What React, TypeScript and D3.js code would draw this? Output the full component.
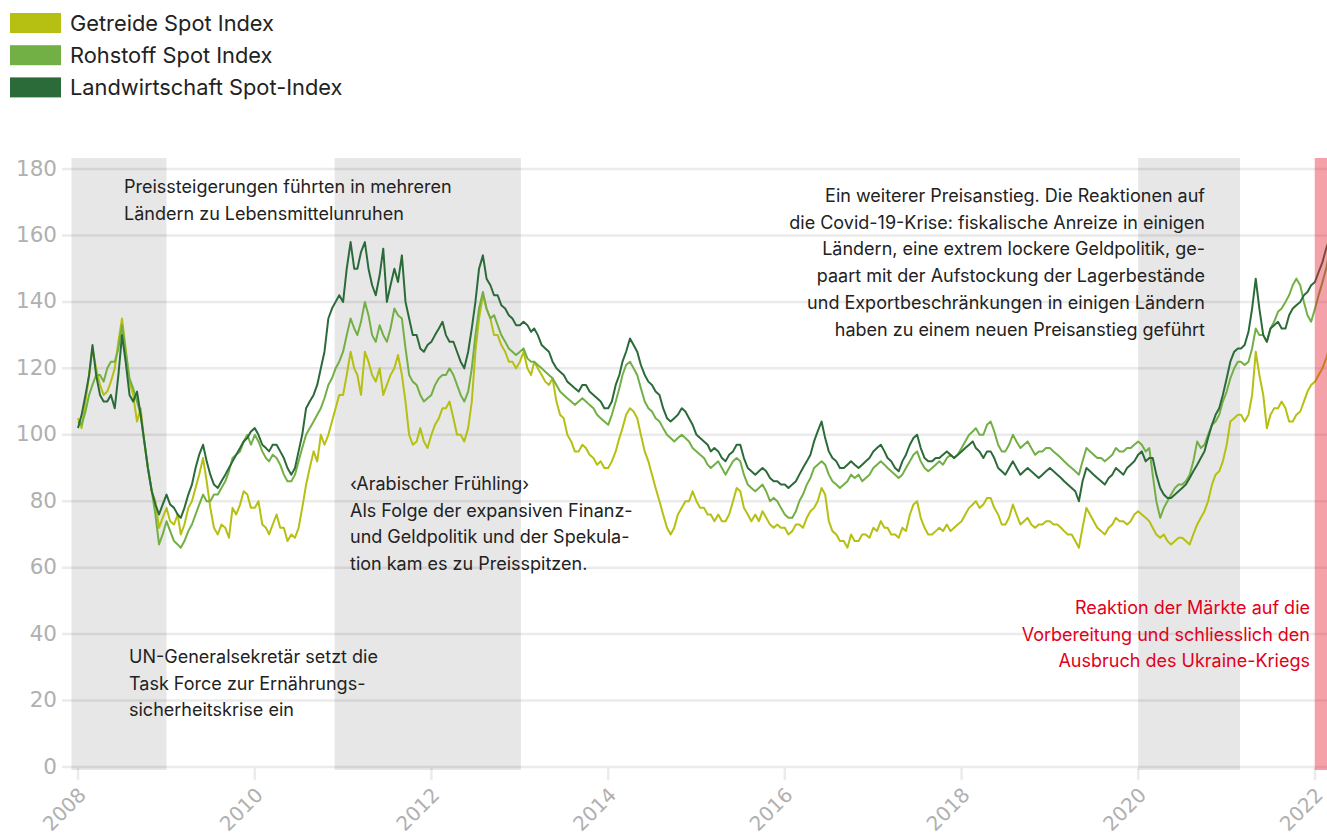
import React, { useEffect, useRef } from "react";
import * as d3 from "d3";

// two readings per month (1st and 16th), first point = 1 Jan 2008
const startYear = 2008;

const getreide = [
  105, 102, 110, 118, 126, 120, 115, 112, 113, 116, 120, 128, 135, 126, 116, 112, 104, 108, 98, 90, 83, 80, 72, 75,
  78, 74, 73, 76, 70, 73, 78, 80, 84, 88, 93, 86, 78, 72, 70, 73, 72, 69, 78, 76, 79, 83, 82, 78,
  78, 80, 73, 72, 70, 73, 76, 72, 72, 68, 70, 69, 72, 78, 85, 90, 95, 92, 100, 97, 100, 104, 108, 112,
  112, 118, 125, 120, 118, 112, 125, 122, 118, 116, 120, 112, 115, 118, 120, 124, 118, 110, 100, 97, 98, 102, 98, 96,
  100, 103, 105, 108, 108, 110, 105, 100, 100, 98, 102, 110, 125, 135, 142, 138, 135, 130, 130, 127, 125, 122, 122, 120,
  122, 125, 120, 118, 122, 120, 118, 116, 115, 117, 110, 106, 105, 100, 98, 95, 95, 97, 96, 94, 93, 91, 92, 90,
  90, 92, 95, 99, 102, 106, 108, 107, 105, 100, 95, 92, 88, 84, 80, 76, 72, 70, 72, 76, 78, 80, 80, 83,
  80, 78, 78, 76, 76, 74, 76, 74, 74, 76, 80, 84, 83, 78, 76, 74, 76, 74, 77, 75, 73, 72, 73, 72,
  72, 70, 71, 73, 73, 72, 75, 77, 78, 80, 84, 82, 74, 71, 70, 68, 68, 66, 70, 68, 68, 70, 70, 69,
  72, 71, 74, 72, 72, 70, 70, 69, 72, 71, 76, 79, 80, 75, 72, 70, 70, 71, 72, 71, 73, 71, 72, 73,
  74, 76, 78, 79, 80, 78, 79, 81, 81, 78, 76, 73, 73, 75, 79, 76, 73, 74, 75, 73, 72, 73, 73, 74,
  74, 73, 73, 72, 71, 70, 70, 68, 66, 72, 78, 76, 74, 72, 71, 70, 72, 73, 75, 74, 74, 73, 74, 76,
  77, 76, 75, 74, 72, 70, 69, 70, 68, 67, 68, 69, 69, 68, 67, 70, 73, 75, 77, 80, 85, 88, 89, 92,
  97, 104, 105, 106, 106, 104, 106, 112, 125, 118, 112, 102, 106, 108, 108, 110, 108, 104, 104, 106, 107, 110, 113, 115,
  116, 118, 120, 123, 126,
];

const rohstoff = [
  104, 103, 107, 112, 115, 118, 118, 116, 120, 122, 122, 126, 133, 125, 117, 114, 110, 106, 98, 90, 83, 76, 67, 70,
  74, 71, 68, 67, 66, 68, 71, 73, 76, 79, 82, 80, 80, 82, 82, 84, 86, 89, 93, 94, 95, 98, 100, 97,
  100, 98, 95, 93, 92, 94, 93, 91, 88, 86, 86, 88, 92, 96, 100, 102, 104, 106, 108, 111, 115, 117, 120, 122,
  125, 130, 135, 132, 130, 134, 140, 136, 130, 128, 133, 130, 128, 132, 138, 136, 135, 126, 118, 116, 115, 112, 110, 111,
  112, 115, 117, 118, 118, 120, 118, 115, 112, 110, 113, 120, 130, 138, 143, 138, 135, 136, 133, 130, 128, 126, 125, 124,
  125, 126, 123, 122, 122, 121, 120, 119, 118, 117, 115, 113, 112, 111, 110, 109, 110, 111, 110, 109, 108, 106, 105, 104,
  103, 106, 110, 114, 118, 121, 122, 120, 118, 114, 110, 108, 107, 105, 104, 102, 100, 99, 98, 99, 100, 99, 98, 96,
  95, 94, 93, 91, 90, 91, 92, 90, 88, 90, 92, 93, 92, 88, 85, 84, 83, 84, 85, 83, 80, 81, 80, 78,
  76, 75, 75, 77, 80, 82, 85, 87, 90, 91, 92, 91, 88, 86, 85, 84, 85, 86, 88, 87, 88, 86, 87, 88,
  90, 91, 92, 91, 90, 89, 88, 87, 88, 90, 92, 94, 95, 92, 90, 89, 90, 91, 92, 91, 93, 94, 93, 94,
  96, 98, 100, 101, 102, 100, 100, 103, 104, 101, 97, 95, 95, 97, 100, 98, 96, 97, 98, 96, 94, 95, 95, 96,
  96, 95, 94, 93, 92, 91, 90, 89, 88, 92, 96, 95, 94, 93, 93, 92, 93, 94, 96, 95, 95, 96, 96, 97,
  98, 97, 95, 96, 88, 80, 75, 78, 80, 82, 84, 85, 85, 86, 88, 92, 98, 96, 97, 100, 103, 104, 106, 110,
  113, 117, 120, 122, 122, 121, 122, 126, 132, 130, 130, 128, 132, 134, 137, 138, 140, 142, 145, 147, 145, 140, 136, 134,
  138, 142, 146, 150, 155,
];

const landwirtschaft = [
  102, 106, 112, 118, 127, 118, 112, 110, 110, 112, 108, 118, 130, 122, 112, 110, 113, 106, 98, 90, 83, 79, 76, 79,
  82, 79, 78, 76, 75, 78, 82, 85, 90, 94, 97, 92, 88, 85, 84, 86, 88, 90, 92, 94, 96, 98, 99, 101,
  102, 100, 97, 96, 95, 97, 97, 95, 93, 90, 88, 90, 95, 100, 108, 110, 112, 115, 120, 125, 135, 138, 140, 142,
  140, 150, 158, 150, 150, 155, 158, 150, 145, 142, 148, 156, 140, 145, 150, 146, 154, 140, 135, 130, 130, 126, 125, 127,
  128, 130, 132, 134, 130, 128, 128, 125, 122, 120, 125, 132, 140, 150, 154, 147, 145, 142, 142, 139, 138, 136, 135, 133,
  133, 134, 133, 131, 132, 130, 127, 126, 125, 122, 120, 119, 118, 116, 115, 114, 113, 115, 115, 113, 112, 111, 110, 108,
  108, 110, 115, 118, 122, 125, 129, 127, 125, 121, 118, 116, 115, 113, 112, 108, 105, 104, 105, 106, 108, 107, 105, 103,
  100, 99, 98, 97, 95, 96, 95, 93, 92, 94, 95, 97, 97, 93, 90, 89, 88, 89, 90, 89, 87, 86, 86, 85,
  85, 84, 85, 86, 88, 90, 92, 94, 98, 101, 104, 99, 95, 93, 92, 90, 90, 91, 92, 91, 90, 91, 92, 93,
  95, 96, 97, 95, 93, 92, 90, 89, 92, 94, 97, 99, 100, 96, 93, 92, 92, 93, 93, 94, 95, 94, 93, 94,
  95, 96, 97, 98, 96, 95, 93, 95, 95, 93, 90, 89, 88, 90, 92, 90, 88, 89, 90, 89, 88, 87, 88, 89,
  90, 89, 88, 87, 86, 85, 84, 83, 80, 86, 90, 89, 88, 87, 86, 85, 87, 88, 90, 89, 88, 90, 91, 92,
  94, 95, 92, 93, 93, 88, 84, 82, 81, 81, 82, 83, 84, 85, 87, 89, 91, 93, 95, 99, 103, 106, 108, 112,
  117, 122, 125, 126, 126, 127, 131, 138, 147, 138, 130, 128, 132, 133, 134, 132, 132, 136, 138, 139, 140, 142, 143, 145,
  146, 149, 152, 156, 159,
];

const seriesNames = ["Getreide Spot Index", "Rohstoff Spot Index", "Landwirtschaft Spot-Index"];
const seriesColors = ["#b5c012", "#72b046", "#2b6b39"];
const yTicks = [0, 20, 40, 60, 80, 100, 120, 140, 160, 180];
const xTickYears = [2008, 2010, 2012, 2014, 2016, 2018, 2020, 2022];

// crisis periods (grey) and war period (red)
const greyBands = [
  ["2007-12-05", "2009-01-01"],
  ["2010-11-27", "2013-01-05"],
  ["2020-01-01", "2021-02-25"],
];
const warBand = ["2021-12-31", "2022-04-01"];

const notes = [
  { x: 124, y: 193, anchor: "start", color: "#222", lines: ["Preissteigerungen führten in mehreren", "Ländern zu Lebensmittelunruhen"] },
  { x: 129, y: 663, anchor: "start", color: "#222", lines: ["UN-Generalsekretär setzt die", "Task Force zur Ernährungs-", "sicherheitskrise ein"] },
  {
    x: 350, y: 490, anchor: "start", color: "#222",
    lines: ["‹Arabischer Frühling›", "Als Folge der expansiven Finanz-", "und Geldpolitik und der Spekula-", "tion kam es zu Preisspitzen."],
  },
  {
    x: 1205, y: 202, anchor: "end", color: "#222",
    lines: [
      "Ein weiterer Preisanstieg. Die Reaktionen auf",
      "die Covid-19-Krise: fiskalische Anreize in einigen",
      "Ländern, eine extrem lockere Geldpolitik, ge-",
      "paart mit der Aufstockung der Lagerbestände",
      "und Exportbeschränkungen in einigen Ländern",
      "haben zu einem neuen Preisanstieg geführt",
    ],
  },
  {
    x: 1310, y: 614, anchor: "end", color: "#e2001a",
    lines: ["Reaktion der Märkte auf die", "Vorbereitung und schliesslich den", "Ausbruch des Ukraine-Kriegs"],
  },
];

function App() {
  const ref = useRef<SVGSVGElement>(null);

  useEffect(() => {
    const svg = d3.select(ref.current);
    svg.selectAll("*").remove();

    const width = 1327;
    const x = d3
      .scaleUtc()
      .domain([new Date(Date.UTC(2008, 0, 1)), new Date(Date.UTC(2022, 0, 1))])
      .range([78, 1315]);
    const y = d3.scaleLinear().domain([0, 180]).range([767, 169]);
    const top = 158;
    const bottom = 770;
    const parse = (s: string) => new Date(s + "T00:00:00Z");
    const axisFont = "'DejaVu Sans', sans-serif";

    // legend
    const legend = svg.append("g");
    seriesNames.forEach((name, i) => {
      legend.append("rect").attr("x", 10).attr("y", 13 + i * 32.2).attr("width", 51).attr("height", 20).attr("fill", seriesColors[i]);
      legend
        .append("text")
        .attr("x", 70)
        .attr("y", 31 + i * 32.2)
        .attr("font-size", 21.8)
        .attr("fill", "#222")
        .text(name);
    });

    // grid
    svg
      .append("g")
      .selectAll("line")
      .data(yTicks)
      .join("line")
      .attr("x1", 62)
      .attr("x2", width)
      .attr("y1", (d) => y(d))
      .attr("y2", (d) => y(d))
      .attr("stroke", "#ebebeb")
      .attr("stroke-width", 2.5);

    svg
      .append("g")
      .selectAll("text")
      .data(yTicks)
      .join("text")
      .attr("x", 57)
      .attr("y", (d) => y(d) - 1)
      .attr("text-anchor", "end")
      .attr("dominant-baseline", "central")
      .attr("font-family", axisFont)
      .attr("font-size", 21.5)
      .attr("fill", "#b0b0b0")
      .text((d) => d);

    // x ticks
    const xt = svg.append("g");
    xTickYears.forEach((yr) => {
      const px = x(new Date(Date.UTC(yr, 0, 1)));
      xt.append("line").attr("x1", px).attr("x2", px).attr("y1", 768).attr("y2", 780).attr("stroke", "#ebebeb").attr("stroke-width", 2.5);
      xt.append("text")
        .attr("transform", `translate(${px - 1},${786}) rotate(-45)`)
        .attr("text-anchor", "end")
        .attr("dy", "0.73em")
        .attr("font-family", axisFont)
        .attr("font-size", 20)
        .attr("fill", "#b0b0b0")
        .text(yr);
    });

    // grey bands
    svg
      .append("g")
      .selectAll("rect")
      .data(greyBands)
      .join("rect")
      .attr("x", (d) => x(parse(d[0])))
      .attr("width", (d) => x(parse(d[1])) - x(parse(d[0])))
      .attr("y", top)
      .attr("height", bottom - top)
      .attr("fill", "#000")
      .attr("fill-opacity", 0.095);

    // lines
    const dates = getreide.map((_, i) => new Date(Date.UTC(startYear, Math.floor(i / 2), i % 2 ? 16 : 1)));
    const line = d3
      .line<number>()
      .x((_, i) => x(dates[i]))
      .y((d) => y(d));
    [getreide, rohstoff, landwirtschaft].forEach((s, i) => {
      svg
        .append("path")
        .datum(s)
        .attr("d", line)
        .attr("fill", "none")
        .attr("stroke", seriesColors[i])
        .attr("stroke-width", 2)
        .attr("stroke-linejoin", "round");
    });

    // war band on top
    svg
      .append("rect")
      .attr("x", x(parse(warBand[0])))
      .attr("width", x(parse(warBand[1])) - x(parse(warBand[0])))
      .attr("y", top)
      .attr("height", bottom - top)
      .attr("fill", "rgb(230,30,50)")
      .attr("fill-opacity", 0.42);

    // annotations
    notes.forEach((n) => {
      const t = svg
        .append("text")
        .attr("x", n.x)
        .attr("y", n.y)
        .attr("text-anchor", n.anchor)
        .attr("font-size", 18)
        .attr("fill", n.color);
      n.lines.forEach((l, i) => {
        t.append("tspan").attr("x", n.x).attr("y", n.y + i * 26.7).text(l);
      });
    });
  }, []);

  return (
    <svg
      ref={ref}
      width={1327}
      height={840}
      style={{ position: "absolute", left: 0, top: 0, fontFamily: "Inter, sans-serif", background: "#fff" }}
    />
  );
}

export default App;
